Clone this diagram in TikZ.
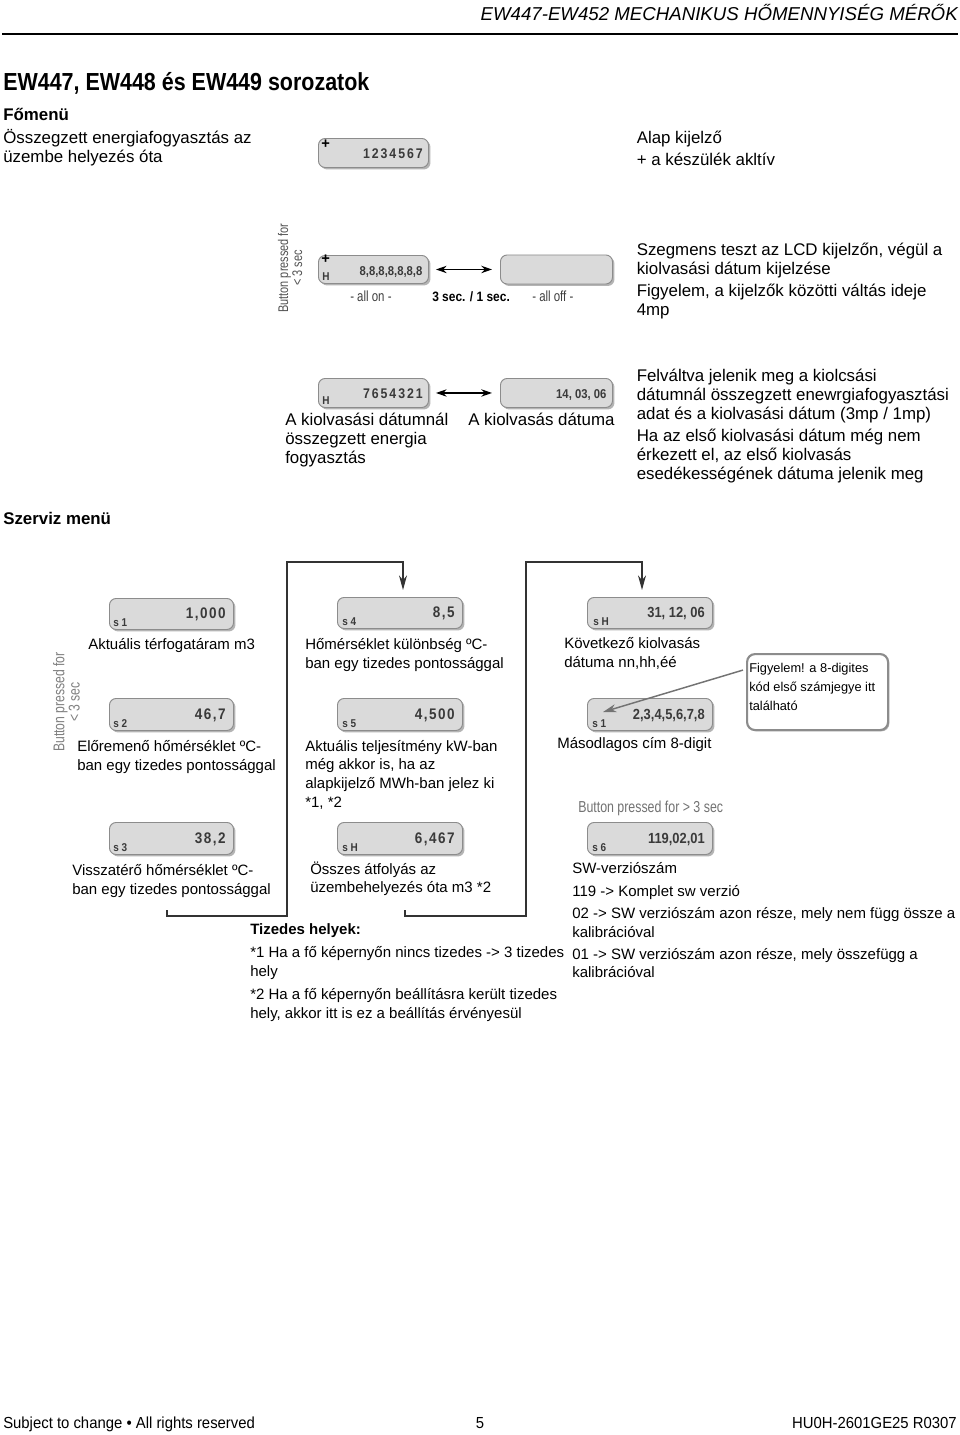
\documentclass[tikz,border=0pt]{standalone}
\usepackage{fontspec}
\usetikzlibrary{arrows.meta,shadows,calc}
\setmainfont{Liberation Sans}
\newfontfamily\headf[FakeStretch=0.87]{Liberation Sans}
\newfontfamily\narrowf[FakeStretch=0.93]{Liberation Sans}
\newfontfamily\greyf[FakeStretch=0.78]{Liberation Sans}
\newfontfamily\lcdf[FakeStretch=0.88]{Liberation Sans}
\newfontfamily\lcdsp[FakeStretch=0.88,LetterSpace=10]{Liberation Sans}
\newfontfamily\lcdtop[FakeStretch=0.88,LetterSpace=14]{Liberation Sans}
\definecolor{lcdfill}{HTML}{DADADA}
\definecolor{lcdline}{HTML}{8C8C8C}
\definecolor{lcdshadow}{HTML}{B4B4B4}
\definecolor{lcdtext}{HTML}{3A3A3A}
\definecolor{wire}{HTML}{333333}
\tikzset{
  x=0.75pt,y=-0.75pt,
  txt/.style={anchor=north west,inner sep=0pt,align=left,yshift=12pt},
  lcdbox/.style={draw=lcdline,fill=lcdfill,rounded corners=5pt,line width=0.7pt,anchor=north west,inner sep=0pt,
    drop shadow={shadow xshift=1.5pt,shadow yshift=-1.5pt,fill=lcdshadow,opacity=1}},
  lcdnum/.style={anchor=base east,inner sep=0pt,text=lcdtext,font=\lcdf\bfseries\fontsize{11}{13}\selectfont},
  lcdnumsp/.style={lcdnum,font=\lcdsp\bfseries\fontsize{11.5}{13}\selectfont},
  lcdnumsm/.style={lcdnum,xshift=1.2pt,yshift=-1.3pt,font=\lcdf\bfseries\fontsize{9.6}{12}\selectfont},
  lcdnumtop/.style={lcdnum,xshift=1.5pt,yshift=-1.3pt,font=\lcdtop\bfseries\fontsize{10.5}{12}\selectfont},
  lcdtag/.style={anchor=base west,inner sep=0pt,text=lcdtext,font=\lcdf\bfseries\fontsize{8.5}{10}\selectfont},
  lcdplus/.style={anchor=base west,inner sep=0pt,text=black,font=\bfseries\fontsize{11}{12}\selectfont},
  duplex/.style={draw=black,line width=0.9pt,{Stealth[length=8pt,width=5.5pt]}-{Stealth[length=8pt,width=5.5pt]}},
  wirearrow/.style={draw=wire,line width=0.9pt,-{Stealth[length=11pt,width=6pt]}},
  rottext/.style={rotate=90,align=center,inner sep=0pt},
  smalltext/.style={inner sep=0pt,anchor=base west,font=\greyf\fontsize{11}{13}\selectfont,text=#1},
  callout/.style={draw=lcdline,fill=white,line width=1.6pt,rounded corners=6pt,anchor=north west,inner sep=0pt,minimum width=105.75pt,minimum height=57pt},
  footfont/.style={inner sep=0pt,font=\narrowf\fontsize{12}{14}\selectfont},
}
% baseline-positioned text block: name, (x,first baseline), line spacing (px), lines
\newcommand{\bodysize}{12.65}
\newcommand{\blk}[4]{\node[txt,font=\fontsize{\bodysize}{\dimexpr #3pt*3/4\relax}\selectfont] (#1) at #2 {\rule{0pt}{12pt}#4};}
\newcommand{\lcd}[9]{% name x y w h numstyle number tag tagx
  \node[lcdbox,minimum width=#4*0.75pt,minimum height=#5*0.75pt] (#1) at (#2,#3) {};
  \node[#6] (#1n) at ($(#2,#3)+(#4-7,#5*0.66)$) {#7};
  \node[lcdtag] (#1t) at ($(#2,#3)+(#9,#5-3)$) {#8};
}
\begin{document}
\begin{tikzpicture}
\useasboundingbox (0,0) rectangle (960,1435);
\fill[white] (0,0) rectangle (960,1435);

% header
\node[anchor=base east,inner sep=0pt,font=\itshape\fontsize{14}{16}\selectfont] (hdr) at (958,20) {EW447-EW452 MECHANIKUS HŐMENNYISÉG MÉRŐK};
\coordinate (ruleL) at (2,34); \coordinate (ruleR) at (958,34);
\draw[line width=0.9pt] (ruleL) -- (ruleR);
\node[anchor=base west,inner sep=0pt,font=\headf\bfseries\fontsize{18.5}{22}\selectfont] (title) at (3,90.5) {EW447, EW448 és EW449 sorozatok};

% main menu
\blk{fomenu}{(3,120.5)}{19}{\textbf{Főmenü}}
\blk{osszeg}{(3,143)}{19}{Összegzett energiafogyasztás az\\üzembe helyezés óta}
\blk{alap}{(636.5,143)}{22.5}{Alap kijelző\\+ a készülék akltív}
\blk{szeg}{(636.5,255)}{19}{Szegmens teszt az LCD kijelzőn, végül a\\kiolvasási dátum kijelzése}
\blk{figy}{(636.5,296)}{19}{Figyelem, a kijelzők közötti váltás ideje\\4mp}
\blk{felv}{(636.5,381)}{19}{Felváltva jelenik meg a kiolcsási\\dátumnál összegzett enewrgiafogyasztási\\adat és a kiolvasási dátum (3mp / 1mp)}
\blk{haaz}{(636.5,441)}{19}{Ha az első kiolvasási dátum még nem\\érkezett el, az első kiolvasás\\esedékességének dátuma jelenik meg}
\blk{akd}{(285,425)}{19}{A kiolvasási dátumnál\\összegzett energia\\fogyasztás}
\blk{akdd}{(468,425)}{19}{A kiolvasás dátuma}
\blk{szerviz}{(3,524)}{19}{\textbf{Szerviz menü}}

% main menu displays
\lcd{d1}{318}{138}{110}{29}{lcdnumtop}{1234567}{}{0}
\node[lcdplus] (d1p) at (321,148) {+};
\lcd{d2}{318}{255}{110}{28}{lcdnumsm}{8,8,8,8,8,8,8}{H}{4}
\node[lcdplus] (d2p) at (321,263) {+};
\lcd{d3}{500}{254.5}{112}{29}{lcdnum}{}{}{0}
\lcd{d4}{318}{378}{110}{29}{lcdnumtop}{7654321}{H}{4}
\lcd{d5}{500}{378}{112}{29}{lcdnumsm}{14, 03, 06}{}{0}
\draw[duplex] ($(d2.east)+(7,0)$) -- ($(d3.west)+(-8,0)$);
\draw[duplex] ($(d4.east)+(7,0)$) -- ($(d5.west)+(-8,0)$);
\node[rottext,text=black!68,font=\greyf\fontsize{10.5}{9.5}\selectfont] (bp1) at (290,268) {Button pressed for\\< 3 sec};
\node[smalltext=black!75] (allon) at (350,301) {- all on -};
\node[smalltext=black,font=\lcdf\bfseries\fontsize{10.2}{12}\selectfont] (secs) at (432,301) {3 sec. / 1 sec.};
\node[smalltext=black!75] (alloff) at (532,301) {- all off -};

% service displays
\lcd{s1}{109}{598}{124}{31}{lcdnumsp}{1,000}{s 1}{4}
\lcd{s2}{109}{698}{124}{32}{lcdnumsp}{46,7}{s 2}{4}
\lcd{s3}{109}{822}{124}{32}{lcdnumsp}{38,2}{s 3}{4}
\lcd{s4}{337}{597}{125}{31}{lcdnumsp}{8,5}{s 4}{5}
\lcd{s5}{337}{698}{125}{32}{lcdnumsp}{4,500}{s 5}{5}
\lcd{sH}{337}{822}{125}{32}{lcdnumsp}{6,467}{s H}{5}
\lcd{r1}{587}{597}{125}{31}{lcdnum}{31, 12, 06}{s H}{6}
\lcd{r2}{587}{698}{125}{32}{lcdnum}{2,3,4,5,6,7,8}{s 1}{5}
\lcd{r3}{587}{822}{125}{32}{lcdnum}{119,02,01}{s 6}{5}
\node[rottext,text=black!50,font=\greyf\fontsize{11.7}{11.5}\selectfont] (bp2) at (66.5,702) {Button pressed for\\< 3 sec};
\node[smalltext=black!55,font=\greyf\fontsize{11.9}{14}\selectfont] (bp3) at (578,812) {Button pressed for > 3 sec};

% service texts
\renewcommand{\bodysize}{11.25}
\blk{t1}{(88,649)}{19}{Aktuális térfogatáram m3}
\blk{t2}{(305,649)}{19}{Hőmérséklet különbség ºC-\\ban egy tizedes pontossággal}
\blk{t3}{(564,648)}{19}{Következő kiolvasás\\dátuma nn,hh,éé}
\blk{t4}{(77,751)}{19}{Előremenő hőmérséklet ºC-\\ban egy tizedes pontossággal}
\blk{t5}{(305,751)}{18.7}{Aktuális teljesítmény kW-ban\\még akkor is, ha az\\alapkijelző MWh-ban jelez ki\\*1, *2}
\blk{t6}{(557,748)}{19}{Másodlagos cím 8-digit}
\blk{t7}{(72,875)}{19}{Visszatérő hőmérséklet ºC-\\ban egy tizedes pontossággal}
\blk{t8}{(310,874)}{18.5}{Összes átfolyás az\\üzembehelyezés óta m3 *2}
\blk{t9}{(572,873)}{23}{SW-verziószám\\119 -> Komplet sw verzió}
\blk{t10}{(572,918)}{19}{02 -> SW verziószám azon része, mely nem függ össze a\\kalibrációval}
\blk{t11}{(572,959)}{18.5}{01 -> SW verziószám azon része, mely összefügg a\\kalibrációval}
\blk{t12}{(250,934)}{19}{\textbf{Tizedes helyek:}}
\blk{t13}{(250,957)}{19.5}{*1 Ha a fő képernyőn nincs tizedes -> 3 tizedes\\hely}
\blk{t14}{(250,999)}{19}{*2 Ha a fő képernyőn beállításra került tizedes\\hely, akkor itt is ez a beállítás érvényesül}

% callout
\node[callout,drop shadow={shadow xshift=1pt,shadow yshift=-1pt,fill=lcdshadow,opacity=1}] (box) at (746,653) {};
\node[txt,font=\fontsize{9.6}{14.25}\selectfont] (boxt) at (749,672) {\rule{0pt}{12pt}Figyelem! a 8-digites\\kód első számjegye itt\\található};
\coordinate (cs) at ($(box.west)+(-3,-22)$);
\coordinate (ce) at (603,712);
\draw[draw=black!55,line width=1.1pt,-{Stealth[length=10pt,width=6pt]}] (cs) -- (ce);

% wires
\coordinate (a0) at (167,910); \coordinate (a1) at (167,916); \coordinate (a2) at (287,916);
\coordinate (a3) at (287,562); \coordinate (a4) at (403,562); \coordinate (a5) at (403,590);
\draw[wirearrow] (a0) -- (a1) -- (a2) -- (a3) -- (a4) -- (a5);
\coordinate (b0) at (405,910); \coordinate (b1) at (405,916); \coordinate (b2) at (526,916);
\coordinate (b3) at (526,562); \coordinate (b4) at (642,562); \coordinate (b5) at (642,590);
\draw[wirearrow] (b0) -- (b1) -- (b2) -- (b3) -- (b4) -- (b5);

% footer
\node[footfont,anchor=base west] (f1) at (3,1428) {Subject to change • All rights reserved};
\node[footfont,anchor=base] (f2) at (480,1428) {5};
\node[footfont,anchor=base east] (f3) at (957,1428) {HU0H-2601GE25 R0307};
\end{tikzpicture}
\end{document}
